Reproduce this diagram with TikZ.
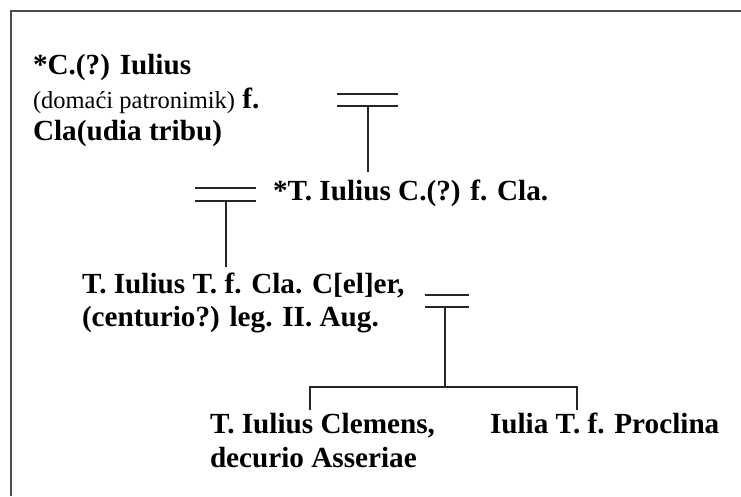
\documentclass[tikz,border=0pt]{standalone}
\usepackage{fontspec}
\setmainfont{Liberation Serif}
\begin{document}
\begin{tikzpicture}[x=1pt,y=-1pt,
  person/.style={anchor=base west,inner sep=0pt,outer sep=0pt,
    font=\fontsize{29.2}{33}\selectfont\bfseries},
  link/.style={line width=1.6pt,draw=black!85},
  frame/.style={line width=1.6pt,draw=black!70}]
\useasboundingbox (0,0) rectangle (741,496);
\draw[frame] (11,496) -- (11,11) -- (741,11);

% generation 1
\node[person] (a1) at (33,74) {*C.(?) Iulius};
\node[person] (a2) at (33,108) {{\fontsize{24.5}{30}\selectfont\mdseries (domaći patronimik)} f.};
\node[person] (a3) at (33,140) {Cla(udia tribu)};

% generation 2
\node[person] (b1) at (273,200) {*T. Iulius C.(?) f. Cla.};

% generation 3
\node[person] (c1) at (82,293) {T. Iulius T. f. Cla. C[el]er,};
\node[person] (c2) at (82,326) {(centurio?) leg. II. Aug.};

% generation 4
\node[person] (d1) at (210,433) {T. Iulius Clemens,};
\node[person] (d2) at (210,467) {decurio Asseriae};
\node[person] (e1) at (490,433) {Iulia T. f. Proclina};

% marriage signs and descent lines
\coordinate (m1) at (368,106);
\draw[link] (337,94) -- (398,94);
\draw[link] (337,106) -- (398,106);
\draw[link] (m1) -- (m1 |- 0,172);

\coordinate (m2) at (226,201);
\draw[link] (195,188) -- (256,188);
\draw[link] (195,201) -- (256,201);
\draw[link] (m2) -- (m2 |- 0,267);

\coordinate (m3) at (445,307);
\coordinate (bar) at (445,387);
\coordinate (dl) at (310,387);
\coordinate (el) at (577,387);
\draw[link] (425,295) -- (469,295);
\draw[link] (425,307) -- (469,307);
\draw[link] (m3) -- (bar);
\draw[link] (dl |- 0,410) -- (dl) -- (el) -- (el |- 0,410);
\end{tikzpicture}
\end{document}
